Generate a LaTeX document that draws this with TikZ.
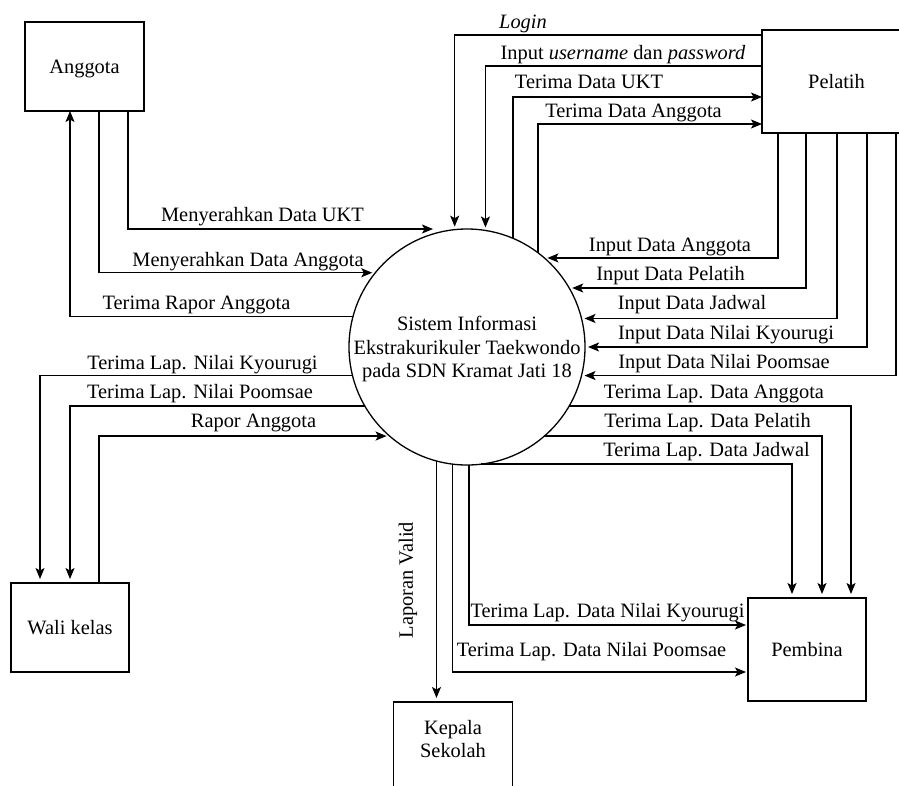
\documentclass[tikz,border=0pt]{standalone}
\usepackage{fontspec}
\setmainfont{Liberation Serif}
\usetikzlibrary{arrows.meta}
\begin{document}
\begin{tikzpicture}[x=1pt,y=-1pt,
  line width=1.3pt,
  every node/.style={font=\fontsize{20.4}{23.5}\selectfont},
  box/.style={draw, line width=1.3pt, rectangle, inner sep=0pt, outer sep=0pt, text height=14pt, text depth=1pt},
  arr/.style={-{Stealth[length=11pt,width=9pt,inset=2.5pt]}},
  toc/.style={arr, shorten >=3pt},
  tobox/.style={arr, shorten >=4pt},
  lbl/.style={anchor=base, inner sep=0pt}]
\useasboundingbox (0,0) rectangle (899,785);
\clip (0,0) rectangle (899,785);

% entities
\node[box, minimum width=119, minimum height=89] (ang) at (84.5,66.5) {Anggota};
\node[box, minimum width=149, minimum height=103] (pel) at (836.5,81.5) {Pelatih};
\node[box, minimum width=118, minimum height=103] (pem) at (807,649.5) {Pembina};
\node[box, minimum width=118, minimum height=89] (wali) at (70,627.5) {Wali kelas};
\node[box, minimum width=118.6, minimum height=100] (kep) at (453,752) {};
\node[align=center, inner sep=0pt] (keptxt) at (453,739) {Kepala\\Sekolah};

% process
\node[draw, circle, line width=1.3pt, minimum size=236, inner sep=0pt, outer sep=0pt] (c) at (467,347) {};
\node[align=center, inner sep=0pt] (ctext) at (467,349) {Sistem Informasi\\Ekstrakurikuler Taekwondo\\pada SDN Kramat Jati 18};

% Pelatih top flows
\draw[toc] (pel.west |- 0,35) -| (c.96.8);
\draw[toc] (pel.west |- 0,66) -| (c.81.7);
\draw[arr] (c.67.6) |- (pel.west |- 0,97);
\draw[arr] (c.53.6) |- (pel.west |- 0,124);
\node[lbl] (lLogin) at (523,28) {\textit{Login}};
\node[lbl] (lUser) at (623,59) {Input \textit{username} dan \textit{password}};
\node[lbl] (lUKT) at (589,88) {Terima Data UKT};
\node[lbl] (lTDA) at (633.5,117) {Terima Data Anggota};

% Anggota flows
\draw[arr] (ang.south -| 128,0) |- (c.north -| 433,0);
\draw[toc] (ang.south -| 99,0) |- (c.141.2);
\draw[arr] (c.165.3) -| (ang.south -| 70,0);
\node[lbl] (lMUKT) at (262.5,221) {Menyerahkan Data UKT};
\node[lbl] (lMDA) at (248,266) {Menyerahkan Data Anggota};
\node[lbl] (lTRA) at (196.5,309) {Terima Rapor Anggota};

% Pelatih inputs
\draw[toc] (pel.south -| 778,0) |- (c.49);
\draw[toc] (pel.south -| 806,0) |- (c.30);
\draw[toc] (pel.south -| 837,0) |- (c.14.2);
\draw[toc] (pel.south -| 867,0) |- (c.0);
\draw[toc] (pel.south -| 896,0) |- (c.-14.2);
\node[lbl] (lIDA) at (670,251) {Input Data Anggota};
\node[lbl] (lIDP) at (670.5,280) {Input Data Pelatih};
\node[lbl] (lIDJ) at (692,309) {Input Data Jadwal};
\node[lbl] (lIDK) at (726,339) {Input Data Nilai Kyourugi};
\node[lbl] (lIDPo) at (724,368) {Input Data Nilai Poomsae};

% Pembina flows
\draw[tobox] (c.-30) -| (pem.north -| 851,0);
\draw[tobox] (c.-49) -| (pem.north -| 822,0);
\draw[tobox] (c.-83) -| (pem.north -| 792,0);
\draw[arr, shorten >=2pt] (c.-89.5) |- (pem.west |- 0,625);
\draw[arr, shorten >=2pt] (c.263.2) |- (pem.west |- 0,672);
\node[lbl] (lTLA) at (714,398) {Terima Lap. Data Anggota};
\node[lbl] (lTLP) at (707.5,427) {Terima Lap. Data Pelatih};
\node[lbl] (lTLJ) at (706.5,456) {Terima Lap. Data Jadwal};
\node[lbl] (lTNK) at (607.5,617) {Terima Lap. Data Nilai Kyourugi};
\node[lbl] (lTNP) at (591.5,656) {Terima Lap. Data Nilai Poomsae};

% Kepala Sekolah flow
\draw[tobox] (c.255.8) -- (c.255.8 |- kep.north);
\node[rotate=90, inner sep=0pt] (lLV) at (408,580) {Laporan Valid};

% Wali kelas flows
\draw[tobox] (c.194.7) -| (wali.north -| 40,0);
\draw[tobox] (c.210) -| (wali.north -| 70,0);
\draw[toc] (wali.north -| 99,0) |- (c.229);
\node[lbl] (lWK) at (202.5,369) {Terima Lap. Nilai Kyourugi};
\node[lbl] (lWP) at (200,398) {Terima Lap. Nilai Poomsae};
\node[lbl] (lRA) at (253.5,427) {Rapor Anggota};
\end{tikzpicture}
\end{document}
